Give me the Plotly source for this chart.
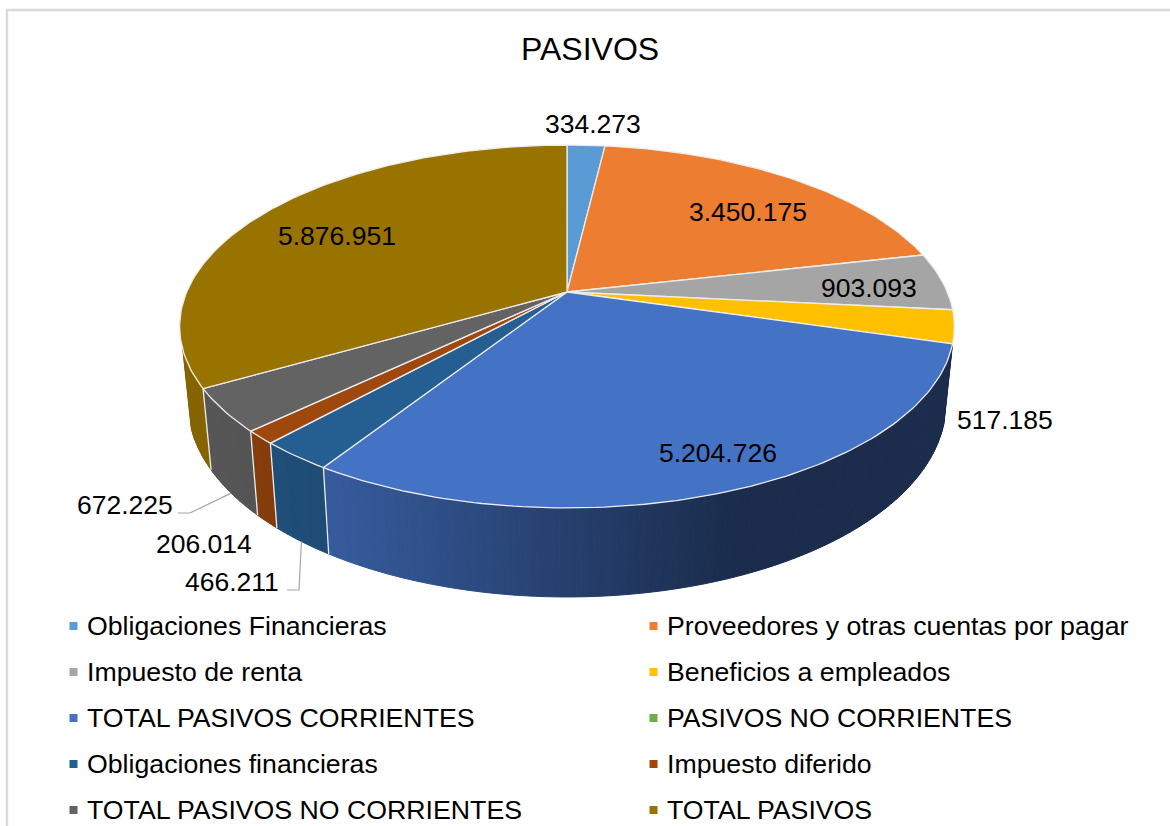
import math
import plotly.graph_objects as go

# ---- data -------------------------------------------------------------
categories = ["Obligaciones Financieras", "Proveedores y otras cuentas por pagar",
              "Impuesto de renta", "Beneficios a empleados",
              "TOTAL PASIVOS CORRIENTES", "PASIVOS NO CORRIENTES",
              "Obligaciones financieras", "Impuesto diferido",
              "TOTAL PASIVOS NO CORRIENTES", "TOTAL PASIVOS"]
values = [334273, 3450175, 903093, 517185, 5204726, 0, 466211, 206014, 672225, 5876951]
colors = ["#5b9bd5", "#ed7d31", "#a5a5a5", "#ffc000", "#4472c4",
          "#70ad47", "#255e91", "#9e480e", "#636363", "#997300"]
title_text = "PASIVOS"

# ---- layout of the tilted pie (pixels of the 1170x826 canvas) -----------
W, H = 1170, 826
CX, CY = 567.0, 292.0          # apex of the top face
R, B, K = 380.3, 174.9, 0.19   # perspective projection of the disc
LOW_SX, LOW_SY, LOW_Y0 = 0.978, 1.065, 367.0  # rim of the lower face
LABEL_FS, LEGEND_FS, TITLE_FS = 26.5, 26.7, 32
FONT = "Liberation Sans, Arial, sans-serif"
EDGE = "#ececec"

label_pos = {0: (593, 124), 1: (748, 212), 2: (869, 288), 3: (1005, 420),
             4: (718, 453), 6: (232, 582), 7: (204, 544), 8: (125, 505), 9: (337, 236)}
leaders = {8: [(178, 513), (190, 513)], 6: [(287, 590), (299, 590)]}
LEG_ROWS = [626, 672, 718, 764, 810]
LEG_COLS = [(73.5, 85.5), (653.5, 666)]


def top(theta):
    t = math.radians(theta)
    X, Y = math.sin(t), -math.cos(t)
    d = 1 - K * Y
    return CX + R * X / d, CY + B * Y / d


def low(theta):
    x, y = top(theta)
    return CX + LOW_SX * (x - CX), LOW_Y0 + LOW_SY * (y - CY)


def shade(hex_color, x):
    if x <= 212:
        f = 0.87
    elif x <= 330:
        f = 0.87 + (x - 212) / 118 * (0.80 - 0.87)
    elif x <= 730:
        f = 0.80 + (x - 330) / 400 * (0.39 - 0.80)
    else:
        f = 0.39
    r, g, b = (int(hex_color[i:i + 2], 16) for i in (1, 3, 5))
    return f"rgb({r * f:.0f},{g * f:.0f},{b * f:.0f})"


total = sum(values)
bounds = []
acc = 0.0
for v in values:
    bounds.append((acc / total * 360, (acc + v) / total * 360))
    acc += v

fig = go.Figure()
no_hover = dict(hoverinfo="skip", showlegend=False)

# ---- side wall ---------------------------------------------------------
wall_slices = [4, 6, 7, 8, 9]
for i in wall_slices:
    a, b = bounds[i]
    if i == 9:
        b = min(b, 252)
    n = max(2, int((b - a) / 0.7))
    for j in range(n):
        t0 = a + (b - a) * j / n
        t1 = a + (b - a) * (j + 1) / n
        sub = [t0, (t0 + t1) / 2, t1]
        pts = [top(t) for t in sub] + [low(t) for t in reversed(sub)]
        xs, ys = zip(*pts)
        col = shade(colors[i], sum(xs) / len(xs))
        fig.add_trace(go.Scatter(x=list(xs) + [xs[0]], y=list(ys) + [ys[0]], mode="lines",
                                 fill="toself", fillcolor=col,
                                 line=dict(color=col, width=1), **no_hover))

# wall separators between the slices
for i in [6, 7, 8, 9]:
    a, b = bounds[i]
    xa, ya = top(a)
    xb, yb = low(a)
    fig.add_trace(go.Scatter(x=[xa, xb], y=[ya, yb], mode="lines",
                             line=dict(color=EDGE, width=1.3), **no_hover))

# ---- leader lines ------------------------------------------------------
for i, pts in leaders.items():
    mid = sum(bounds[i]) / 2
    ex, ey = low(mid)
    fig.add_trace(go.Scatter(x=[p[0] for p in pts] + [ex], y=[p[1] for p in pts] + [ey],
                             mode="lines", line=dict(color="#a6a6a6", width=1.2), **no_hover))

# ---- top faces ---------------------------------------------------------
for i, (a, b) in enumerate(bounds):
    if values[i] == 0:
        continue
    n = max(3, int((b - a) / 1.0))
    pts = [(CX, CY)] + [top(a + (b - a) * j / n) for j in range(n + 1)] + [(CX, CY)]
    fig.add_trace(go.Scatter(x=[p[0] for p in pts], y=[p[1] for p in pts], mode="lines",
                             fill="toself", fillcolor=colors[i],
                             line=dict(color=EDGE, width=1.3),
                             name=categories[i], hoverinfo="name", showlegend=False))

annotations = []
# ---- data labels -------------------------------------------------------
for i, (lx, ly) in label_pos.items():
    annotations.append(dict(x=lx, y=ly, xref="x", yref="y", showarrow=False,
                            text=f"{values[i]:,}".replace(",", "."),
                            font=dict(family=FONT, size=LABEL_FS, color="#000000"),
                            xanchor="center", yanchor="middle"))

# ---- legend ------------------------------------------------------------
for i, name in enumerate(categories):
    mx, tx = LEG_COLS[i % 2]
    y = LEG_ROWS[i // 2]
    fig.add_trace(go.Scatter(x=[mx], y=[y], mode="markers",
                             marker=dict(symbol="square", size=8, color=colors[i]),
                             name=name, hoverinfo="name", showlegend=False))
    annotations.append(dict(x=tx, y=y, xref="x", yref="y", showarrow=False, text=name,
                            font=dict(family=FONT, size=LEGEND_FS, color="#000000"),
                            xanchor="left", yanchor="middle", borderpad=0))

# ---- title -------------------------------------------------------------
annotations.append(dict(x=590, y=49, xref="x", yref="y", showarrow=False, text=title_text,
                        font=dict(family=FONT, size=TITLE_FS, color="#000000"),
                        xanchor="center", yanchor="middle"))

# ---- chart frame -------------------------------------------------------
frame = [dict(type="line", x0=7, x1=7, y0=H, y1=10, xref="x", yref="y",
              line=dict(color="#d9d9d9", width=2.4), layer="below"),
         dict(type="line", x0=6, x1=W, y0=10, y1=10, xref="x", yref="y",
              line=dict(color="#d9d9d9", width=2.4), layer="below")]

fig.update_layout(
    width=W, height=H, autosize=False, margin=dict(l=0, r=0, t=0, b=0),
    paper_bgcolor="white", plot_bgcolor="white", showlegend=False,
    annotations=annotations, shapes=frame,
    xaxis=dict(range=[0, W], visible=False, fixedrange=True, domain=[0, 1]),
    yaxis=dict(range=[H, 0], visible=False, fixedrange=True, domain=[0, 1]),
)
fig.write_html("out.html", config=dict(displayModeBar=False, responsive=False),
               post_script="document.body.style.margin='0';document.documentElement.style.overflow='hidden';")
